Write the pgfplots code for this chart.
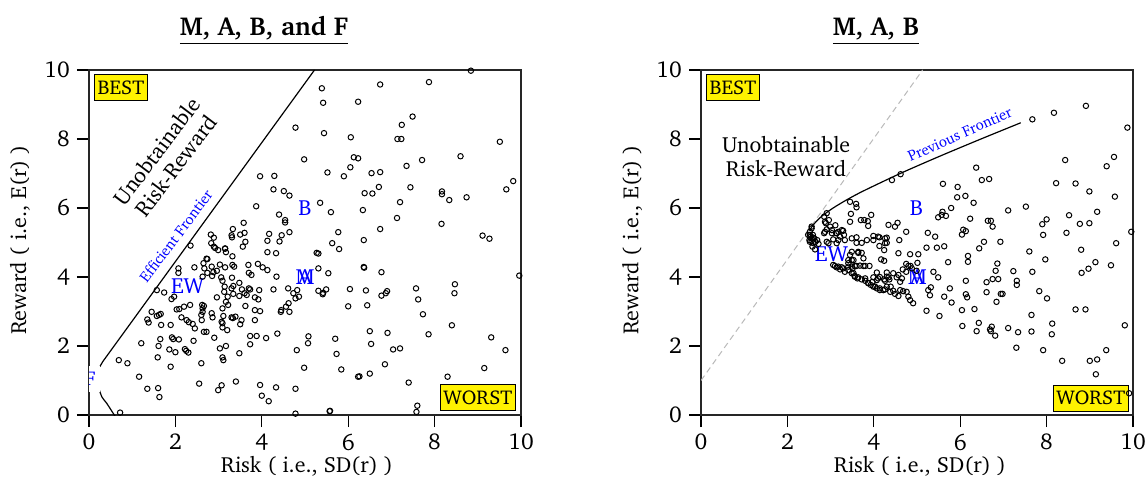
\documentclass[border=0pt]{standalone}
\usepackage[T1]{fontenc}
\renewcommand{\rmdefault}{bch}
\usepackage{pgfplots}
\pgfplotsset{compat=1.18}
\definecolor{lblue}{RGB}{0,0,255}
\pgfplotsset{rrstyle/.style={
  scale only axis, width=216bp, height=172.5bp,
  xmin=0,xmax=10,ymin=0,ymax=10,
  xtick={0,2,...,10}, ytick={0,2,...,10},
  tick pos=left, tick align=outside, major tick length=6bp,
  axis line style={line width=0.7bp, black!85},
  every tick/.style={black, line width=0.6bp},
  tick label style={font=\fontsize{11.5}{13}\selectfont},
  /pgf/number format/assume math mode=true,
  anchor=south west,
}}
\tikzset{pts/.style={only marks, mark=o, mark size=1.35bp, mark options={line width=0.5bp, black}},
  bx/.style={draw=black, fill=yellow, line width=0.5bp, font=\fontsize{10}{12}\selectfont, inner xsep=1.5bp, inner ysep=3bp},
  bl/.style={text=lblue, fill=white, inner sep=0.8bp, font=\fontsize{11}{13}\selectfont}}
\begin{document}
\begin{tikzpicture}
% ---------------- LEFT ----------------
\begin{axis}[rrstyle, at={(44.5bp,43.5bp)}]
\addplot[pts] table {
5.39 9.47
5.42 9.05
6.23 9.08
4.78 8.33
5.44 8.17
6.06 8.05
4.98 7.41
6.13 7.47
6.23 7.44
6.05 7.18
5.52 7.03
5.90 6.92
3.96 6.92
4.29 6.93
4.27 6.54
4.51 6.49
4.64 6.36
3.87 6.05
4.40 5.81
4.54 5.65
4.54 5.58
4.64 5.30
4.46 5.21
4.41 5.03
4.17 5.25
4.13 5.05
4.13 4.72
4.33 4.69
3.58 5.57
3.33 5.39
3.30 5.21
3.31 5.15
3.50 5.23
3.60 5.28
3.62 5.02
3.56 4.88
2.82 5.23
2.89 5.14
2.83 4.98
2.92 4.84
2.99 4.78
3.15 4.82
3.32 4.60
2.72 4.53
2.35 4.91
5.27 4.70
5.31 4.68
5.60 5.88
5.77 5.30
5.63 4.98
5.79 4.81
6.74 9.58
7.87 9.65
8.84 9.98
7.49 8.65
7.24 8.41
7.14 8.00
7.23 8.00
9.51 7.92
7.71 7.39
8.60 7.50
7.35 7.22
6.54 7.01
6.74 7.04
6.71 6.61
7.44 6.60
6.38 6.43
6.56 6.42
8.17 6.48
8.17 6.40
8.34 6.23
8.74 6.31
9.82 6.78
9.66 6.54
6.34 5.94
7.20 6.17
7.13 5.71
8.16 5.54
6.74 5.39
6.36 5.07
9.11 5.20
9.27 5.11
5.35 6.15
5.31 4.25
5.54 4.11
6.37 4.27
6.36 4.29
6.77 4.14
9.96 4.04
8.47 3.79
8.46 3.53
5.31 3.60
5.42 3.54
5.49 3.64
5.41 3.50
6.04 3.65
6.41 3.61
6.77 3.46
6.87 3.53
6.90 3.59
7.57 3.67
7.62 3.35
6.00 3.15
6.44 3.18
7.73 2.92
8.40 2.60
5.08 2.28
5.07 2.08
5.70 2.21
6.50 2.43
6.91 2.38
6.53 2.06
7.86 2.34
9.31 2.25
5.73 1.77
7.04 1.90
7.20 1.93
9.64 1.88
4.98 1.37
5.84 1.32
6.85 1.47
6.26 1.12
6.50 1.20
9.15 1.36
8.30 1.11
7.40 0.94
5.57 0.11
7.60 0.27
7.58 0.09
8.28 -0.05
2.74 4.52
2.65 4.40
2.67 4.25
2.74 4.12
2.63 4.01
2.84 4.30
2.88 4.14
2.96 4.18
2.85 4.03
3.03 4.36
3.15 4.28
2.07 4.25
2.07 4.12
2.44 4.28
3.06 3.99
3.09 3.89
3.14 3.72
3.13 3.57
3.32 4.35
3.36 4.30
3.31 3.98
3.34 3.74
3.30 3.67
3.69 4.35
3.76 4.06
3.70 4.12
3.48 3.83
3.54 3.64
3.70 3.67
3.73 3.64
3.91 4.38
4.02 4.28
4.13 4.20
4.34 4.01
3.94 3.62
4.27 3.64
4.61 3.67
4.73 3.53
4.82 3.62
4.78 3.38
4.86 3.43
4.62 3.24
4.56 3.14
4.45 3.04
4.64 2.99
4.44 2.99
3.60 3.53
3.65 3.48
3.48 3.45
3.34 3.51
3.21 3.43
2.96 3.41
3.84 3.41
3.92 3.35
3.17 3.28
3.22 3.19
3.09 3.09
3.11 2.87
3.07 2.70
3.62 3.16
3.84 3.04
3.96 3.01
3.84 2.75
2.62 3.19
2.63 3.09
2.63 2.99
2.66 3.16
2.60 2.90
2.61 2.75
2.84 2.95
2.86 2.83
2.72 2.41
2.66 2.41
3.30 2.83
3.33 2.81
3.53 2.75
3.50 2.63
3.39 2.85
3.20 2.46
3.09 2.66
3.09 2.54
1.91 3.36
1.97 3.43
1.74 3.55
1.57 3.62
2.03 3.06
2.09 3.07
2.20 3.14
2.14 2.83
2.26 2.75
2.31 2.69
2.40 2.64
2.45 2.51
2.34 3.19
1.45 2.99
1.57 2.87
1.62 2.90
1.66 2.93
1.35 2.77
1.38 2.68
1.67 2.61
1.89 2.61
1.65 2.20
1.92 2.25
1.95 2.20
2.08 2.19
1.21 2.08
1.61 2.00
1.86 1.90
2.00 1.82
2.22 1.91
2.25 1.86
2.30 1.81
2.42 2.15
1.59 1.67
1.89 1.40
2.60 1.50
2.90 2.24
3.03 1.93
3.09 1.67
3.11 1.59
3.17 2.00
3.48 1.79
3.73 2.29
3.73 2.05
3.88 2.29
4.10 2.23
4.36 2.36
4.81 1.88
0.69 1.59
0.89 1.50
1.16 1.11
1.35 0.76
1.60 0.78
1.63 0.52
2.55 0.91
2.99 0.72
3.07 0.86
3.40 0.97
3.96 0.87
4.00 0.56
4.16 0.40
4.33 0.80
4.78 0.76
4.78 0.04
5.58 0.12
6.23 1.11
0.72 0.07
3.15 4.83
3.17 4.72
2.89 4.88
};
% frontier
\addplot[black, line width=0.6bp] coordinates {(0.25,1.40) (0.32,1.55) (5.22,10.0)};
\addplot[black, line width=0.6bp, smooth] coordinates {(0.22,0.80) (0.30,0.52) (0.41,0.34) (0.60,-0.03)};
\node[bl, font=\fontsize{10}{12}\selectfont, inner xsep=2bp, inner ysep=3bp] at (axis cs:0.03,1.04) {F};
\node[bl] at (axis cs:2.28,3.74) {EW};
\node[bl] at (axis cs:5.0,6.0) {B};
\node[bl] at (axis cs:5.0,4.0) {A};
\node[text=lblue, inner sep=0.8bp, font=\fontsize{11}{13}\selectfont] at (axis cs:5.0,4.0) {M};
\node[rotate=53, align=center, font=\fontsize{11}{13}\selectfont] at (axis cs:1.78,7.44) {Unobtainable\\[-1bp]Risk-Reward};
\node[rotate=53, text=lblue, font=\fontsize{7.5}{9}\selectfont] at (axis cs:2.01,5.19) {Efficient Frontier};
\node[bx, anchor=north west] at (axis cs:0.12,9.88) {BEST};
\node[bx, anchor=south east] at (axis cs:9.88,0.12) {WORST};
\end{axis}
% ---------------- RIGHT ----------------
\begin{axis}[rrstyle, at={(350.5bp,43.5bp)}]
\addplot[gray!55, line width=0.5bp, dash pattern=on 3bp off 2bp] coordinates {(0,1.0) (5.13,10.0)};
\addplot[pts] table {
4.42 6.81
4.62 6.98
3.45 6.18
3.59 6.12
3.60 6.02
3.47 5.83
3.45 5.60
3.94 5.80
3.70 5.65
3.78 5.65
3.86 5.62
3.87 5.48
4.34 5.51
4.49 5.46
4.55 5.57
4.75 5.31
5.25 5.28
5.42 5.17
5.49 5.73
4.59 5.07
2.91 5.85
2.85 5.75
2.96 5.65
2.89 5.56
2.99 5.46
3.11 5.50
3.03 5.36
2.91 5.38
2.85 5.27
2.56 5.41
2.52 5.22
2.60 5.14
2.56 5.04
2.65 5.02
2.58 4.88
2.69 5.07
3.14 5.27
3.29 5.34
3.22 5.17
3.33 5.07
3.49 5.12
3.60 5.15
3.60 4.99
3.72 4.99
3.84 5.07
3.99 5.19
4.13 5.15
4.26 5.12
4.30 4.99
4.24 4.78
4.13 4.90
4.57 4.69
4.84 4.66
5.03 4.66
5.22 4.85
5.46 4.85
2.48 5.22
2.56 5.12
2.51 5.07
2.60 4.98
2.72 4.96
2.64 4.80
3.06 4.35
3.14 4.28
3.22 4.22
3.29 4.25
3.33 4.15
3.41 4.20
3.49 4.11
3.56 4.01
3.64 3.99
3.72 3.93
3.80 3.89
3.87 3.83
3.93 3.77
4.03 3.72
4.14 3.67
4.26 3.64
4.38 3.57
4.49 3.51
4.61 3.62
4.76 3.57
4.80 3.43
4.84 3.33
4.91 3.24
5.22 3.02
5.52 2.87
5.26 3.62
5.30 3.47
3.45 4.64
3.49 4.49
3.41 4.40
3.49 4.30
3.64 4.73
3.72 4.70
3.76 4.54
3.76 4.32
3.90 4.32
3.60 4.32
4.17 4.51
4.24 4.47
4.07 4.13
4.14 4.00
4.30 4.01
4.36 3.93
4.26 3.89
4.57 4.06
4.61 3.86
4.80 4.32
4.88 4.25
4.99 4.18
5.01 4.41
4.45 3.60
4.57 3.45
4.30 5.14
4.26 4.98
3.99 5.07
4.10 5.17
4.75 4.38
3.80 4.32
3.68 4.33
3.56 4.32
2.87 5.60
2.87 5.31
3.03 5.27
3.13 5.27
3.18 5.31
3.26 5.36
3.31 5.22
3.18 5.07
3.06 5.09
2.91 5.02
2.95 4.98
3.14 4.98
2.56 5.46
2.52 5.31
2.59 5.22
2.54 5.17
2.62 5.12
2.52 5.02
3.49 4.73
3.64 4.70
3.41 4.49
3.53 4.49
3.41 4.30
3.51 4.25
3.10 4.32
3.18 4.30
3.26 4.28
3.53 4.11
3.56 4.03
3.62 3.96
3.80 3.96
3.87 3.82
3.99 3.72
4.07 3.67
4.14 3.62
4.22 3.62
4.30 3.72
4.39 3.72
3.99 3.99
4.07 3.91
3.97 3.86
4.10 3.96
4.30 4.13
4.34 3.99
4.24 3.93
4.45 4.11
4.53 3.99
4.85 4.32
4.67 4.22
4.75 4.15
4.65 3.96
4.68 3.59
5.32 3.70
5.38 4.15
5.49 3.99
7.67 8.57
8.17 8.76
8.91 8.96
9.87 8.33
8.43 7.39
9.56 7.48
9.39 7.21
8.22 6.72
8.67 6.71
8.99 6.48
9.58 6.33
6.37 7.17
6.50 6.81
6.67 6.84
5.60 6.70
5.94 6.61
5.93 6.31
6.12 6.35
6.31 6.15
5.79 6.00
5.59 5.89
5.57 5.80
5.67 5.77
7.11 5.93
7.52 6.04
6.23 5.69
6.64 5.63
6.71 5.63
6.75 5.46
6.07 5.37
6.13 5.33
6.04 5.23
8.00 5.67
7.90 5.53
7.92 5.22
8.52 5.79
8.77 5.54
8.99 5.56
9.17 5.89
8.46 5.28
9.96 5.31
9.61 4.98
5.63 4.89
6.44 4.83
6.55 5.02
6.93 5.02
7.60 4.74
8.80 4.79
6.18 4.61
6.18 4.44
5.72 4.43
6.86 4.39
6.82 4.18
7.97 4.51
9.13 4.43
8.97 4.24
8.81 4.12
9.49 4.34
7.23 4.17
7.67 4.15
6.75 3.94
6.88 3.94
6.61 3.85
7.31 3.89
7.31 3.77
6.13 3.89
5.76 3.67
5.63 3.43
5.80 3.26
6.04 3.04
6.33 3.07
6.13 3.50
6.16 3.41
6.61 3.56
6.84 3.28
6.94 3.51
6.98 3.51
7.83 3.59
8.01 3.38
8.67 3.06
8.90 3.06
7.65 2.90
8.13 2.65
8.12 2.34
7.65 2.42
7.34 2.40
7.11 2.52
6.43 2.67
6.38 2.43
6.73 2.56
6.69 2.48
6.71 2.43
6.81 2.30
6.05 2.58
7.30 1.95
7.92 1.88
8.36 1.57
9.00 1.57
9.17 1.61
9.38 1.88
9.14 1.18
9.81 2.60
9.91 0.63
};
\addplot[black, line width=0.6bp, smooth] coordinates {
(2.519,5.35) (2.590,5.50) (2.785,5.75) (3.059,6.00) (3.392,6.25) (3.769,6.50)
(4.611,7.00) (5.525,7.50) (6.480,8.00) (7.401,8.47)};
\node[bl] at (axis cs:3.02,4.67) {EW};
\node[bl] at (axis cs:4.99,6.0) {B};
\node[bl] at (axis cs:5.01,4.0) {A};
\node[text=lblue, inner sep=0.8bp, font=\fontsize{11}{13}\selectfont] at (axis cs:5.01,4.0) {M};
\node[align=center, font=\fontsize{11}{13}\selectfont] at (axis cs:1.97,7.48) {Unobtainable\\[-1bp]Risk-Reward};
\node[rotate=24, text=lblue, font=\fontsize{7.5}{9}\selectfont] at (axis cs:5.99,8.14) {Previous Frontier};
\node[bx, anchor=north west] at (axis cs:0.12,9.88) {BEST};
\node[bx, anchor=south east] at (axis cs:9.90,0.10) {WORST};
\end{axis}
% titles and labels
\node[font=\bfseries\fontsize{13}{15}\selectfont, anchor=base] at (132bp,233bp) {\underline{M, A, B, and F}};
\node[font=\bfseries\fontsize{13}{15}\selectfont, anchor=base] at (438bp,233bp) {\underline{M, A, B}};
\node[font=\fontsize{11}{13}\selectfont] at (153.5bp,18bp) {Risk ( i.e., SD(r) )};
\node[font=\fontsize{11}{13}\selectfont] at (460bp,18bp) {Risk ( i.e., SD(r) )};
\node[font=\fontsize{11}{13}\selectfont, rotate=90] at (10bp,131bp) {Reward ( i.e., E(r) )};
\node[font=\fontsize{11}{13}\selectfont, rotate=90] at (316bp,131bp) {Reward ( i.e., E(r) )};
\pgfresetboundingbox
\path[use as bounding box] (0,0) rectangle (572.5bp,251bp);
\end{tikzpicture}
\end{document}
